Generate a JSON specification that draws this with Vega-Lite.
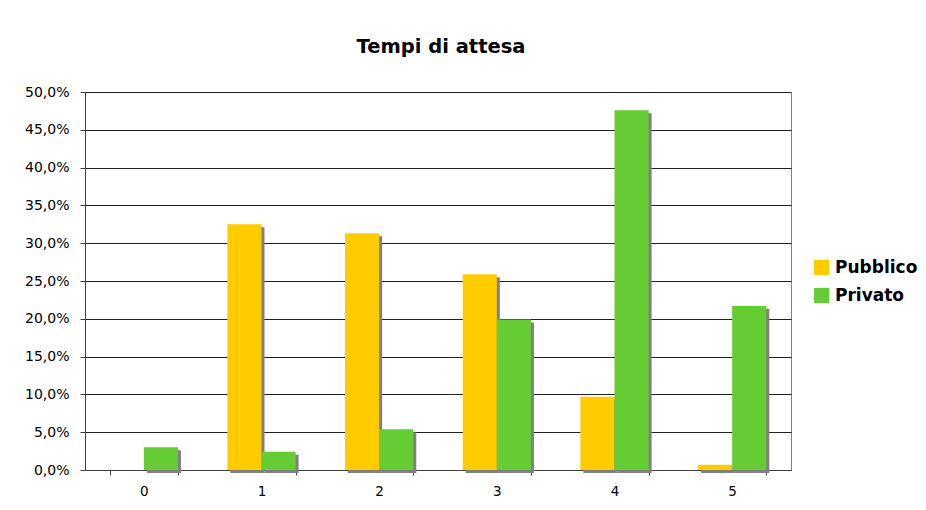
{
  "$schema": "https://vega.github.io/schema/vega-lite/v6.json",
  "autosize": "none",
  "padding": {"left": 85, "top": 92, "right": 135, "bottom": 40},
  "width": 706,
  "height": 378,
  "background": "white",
  "title": {"text": "Tempi di attesa", "font": "DejaVu Sans", "fontSize": 19.5, "fontWeight": "bold", "anchor": "middle", "offset": 28, "dx": 3, "color": "black"},
  "data": {"values": [
    {"cat": "0", "series": "Pubblico", "value": 0.0},
    {"cat": "0", "series": "Privato", "value": 0.030},
    {"cat": "1", "series": "Pubblico", "value": 0.325},
    {"cat": "1", "series": "Privato", "value": 0.024},
    {"cat": "2", "series": "Pubblico", "value": 0.313},
    {"cat": "2", "series": "Privato", "value": 0.054},
    {"cat": "3", "series": "Pubblico", "value": 0.259},
    {"cat": "3", "series": "Privato", "value": 0.199},
    {"cat": "4", "series": "Pubblico", "value": 0.097},
    {"cat": "4", "series": "Privato", "value": 0.476},
    {"cat": "5", "series": "Pubblico", "value": 0.007},
    {"cat": "5", "series": "Privato", "value": 0.217}
  ]},
  "encoding": {
    "x": {"field": "cat", "type": "ordinal", "scale": {"paddingInner": 0.42, "paddingOuter": 0.21},
      "axis": {"title": null, "labelAngle": 0, "tickBand": "extent", "grid": false, "labelFont": "DejaVu Sans", "labelFontSize": 13.5, "labelColor": "black", "labelPadding": 9, "tickSize": 5, "tickColor": "#404040", "domainColor": "#404040"}},
    "y": {"field": "value", "type": "quantitative", "scale": {"domain": [0, 0.5], "nice": false},
      "axis": {"title": null, "values": [0, 0.05, 0.1, 0.15, 0.2, 0.25, 0.3, 0.35, 0.4, 0.45, 0.5], "labelExpr": "replace(format(datum.value, '.1%'), '.', ',')", "labelFont": "DejaVu Sans", "labelFontSize": 14, "labelColor": "black", "labelPadding": 11, "tickSize": 5, "tickColor": "#404040", "domainColor": "#404040", "grid": true, "gridColor": "#202020", "gridOpacity": 1}}
  },
  "layer": [
    {
      "transform": [{"filter": "datum.value > 0"}],
      "mark": {"type": "bar", "color": "#808080", "yOffset": 3, "y2Offset": -3},
      "encoding": {
        "xOffset": {"field": "series", "type": "nominal", "sort": ["Pubblico", "Privato"], "scale": {"paddingInner": 0, "paddingOuter": 0, "range": [3, 71.25]}}
      }
    },
    {
      "mark": {"type": "bar"},
      "encoding": {
        "xOffset": {"field": "series", "type": "nominal", "sort": ["Pubblico", "Privato"], "scale": {"paddingInner": 0, "paddingOuter": 0}},
        "color": {"field": "series", "type": "nominal", "sort": ["Pubblico", "Privato"],
          "scale": {"domain": ["Pubblico", "Privato"], "range": ["#FFCC00", "#66CC33"]},
          "legend": {"title": null, "orient": "none", "legendX": 728, "legendY": 167, "symbolType": "square", "symbolSize": 225, "symbolStrokeWidth": 0, "symbolOpacity": 1, "labelFont": "DejaVu Sans", "labelFontSize": 17, "labelFontWeight": "bold", "labelColor": "black", "labelOffset": 5, "rowPadding": 10, "padding": 0}}
      }
    }
  ],
  "resolve": {"scale": {"xOffset": "independent"}},
  "config": {
    "view": {"stroke": "#808080", "strokeWidth": 1},
    "axis": {"domainWidth": 1}
  }
}
